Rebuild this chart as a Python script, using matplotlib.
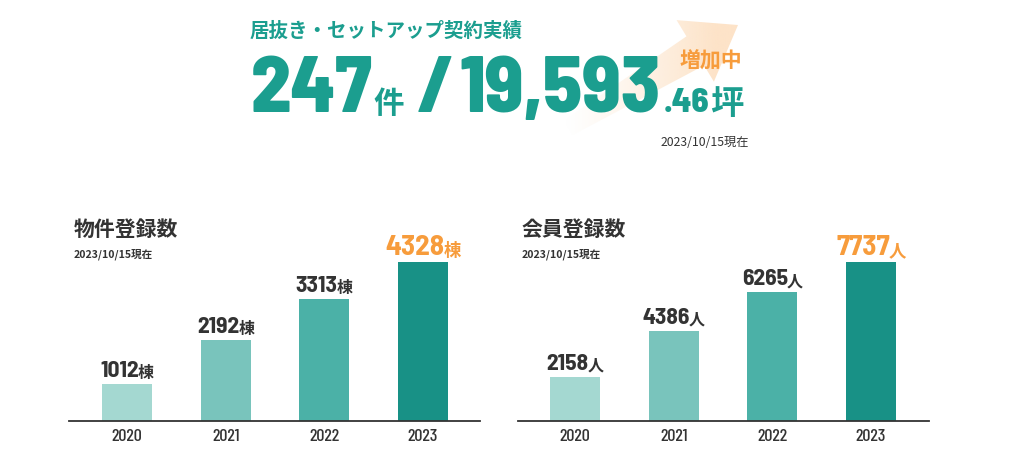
import matplotlib
matplotlib.use("Agg")
import matplotlib.pyplot as plt
import numpy as np
from matplotlib.patches import Polygon
from matplotlib.transforms import offset_copy

# ---------------- data ----------------
years = ["2020", "2021", "2022", "2023"]
property_counts = [1012, 2192, 3313, 4328]
member_counts = [2158, 4386, 6265, 7737]
property_unit = "棟"
member_unit = "人"
property_title = "物件登録数"
member_title = "会員登録数"
as_of = "2023/10/15現在"
header_title = "居抜き・セットアップ契約実績"
contracts = "247"
contracts_unit = "件"
area_int = "19,593"
area_dec = ".46"
area_unit = "坪"
growing = "増加中"

# ---------------- style ----------------
W, H = 1011, 476
TEAL = "#1b9e8f"
ORANGE = "#f79c3c"
DARK = "#333333"
bar_colors = ["#a4d8d1", "#79c4bc", "#4bb1a7", "#189186"]
NUM = "Barlow Semi Condensed"
TICK = "Barlow Condensed"
JP = ["Noto Sans CJK JP", "DejaVu Sans"]

plt.rcParams["font.family"] = JP

fig = plt.figure(figsize=(W / 100, H / 100), dpi=100)
fig.patch.set_facecolor("white")

# full-figure canvas axes in pixel coordinates (y down)
cv = fig.add_axes([0, 0, 1, 1], zorder=0)
cv.set_xlim(0, W)
cv.set_ylim(H, 0)
cv.axis("off")

# ---- gradient arrow (decoration) ----
S = np.array([568.0, 128.0])
T = np.array([738.0, 25.0])
u = (T - S) / np.linalg.norm(T - S)
n = np.array([-u[1], u[0]])
head_len, head_hw, shaft_hw = 50, 36, 17
B = T - u * head_len
pts = [
    S + n * shaft_hw * 0.5,
    B + n * shaft_hw,
    B + n * head_hw,
    T,
    B - n * head_hw,
    B - n * shaft_hw,
    S - n * shaft_hw * 0.5,
]
poly = Polygon(pts, closed=True, facecolor="none", edgecolor="none")
cv.add_patch(poly)
gx = np.linspace(0, 1, 256)
grad = np.zeros((2, 256, 4))
rgb = np.array([253, 224, 194]) / 255.0
grad[..., 0:3] = rgb
grad[..., 3] = np.clip(gx * 1.15, 0, 1) ** 1.2 * 0.9
xs = [p[0] for p in pts]
ys = [p[1] for p in pts]
im = cv.imshow(grad, extent=[min(xs), max(xs), max(ys), min(ys)], aspect="auto",
               interpolation="bilinear", zorder=1)
im.set_clip_path(poly)

# ---- header texts ----
cv.text(250, 31, header_title, color=TEAL, fontsize=14, fontweight="bold",
        va="center", ha="left", zorder=3)
base = 112
big = dict(color=TEAL, fontsize=57, fontweight="heavy", family=NUM,
           va="baseline", ha="left", zorder=3)
cv.text(251, base, contracts, **big)
cv.text(373, base + 1, contracts_unit, color=TEAL, fontsize=22, fontweight="bold",
        va="baseline", ha="left", zorder=3)
cv.text(417, base, "/", **big)
cv.text(459, base, area_int, **big)
cv.text(664, base, area_dec, color=TEAL, fontsize=25, fontweight="heavy",
        family=NUM, va="baseline", ha="left", zorder=3)
cv.text(710, base + 2, area_unit, color=TEAL, fontsize=24, fontweight="bold",
        va="baseline", ha="left", zorder=3)
cv.text(711, 61, growing, color=ORANGE, fontsize=15, fontweight="bold",
        va="center", ha="center", zorder=3)
cv.text(749, 143, as_of, color=DARK, fontsize=8.8, va="center", ha="right", zorder=3)

# ---- bar charts ----
def bar_chart(x0, x1, left_pad, right_pad, values, unit, title, tx):
    ax = fig.add_axes([x0 / W, (H - 421) / H, (x1 - x0) / W, (421 - 262) / H], zorder=2)
    pos = np.arange(len(values))
    ax.bar(pos, values, width=0.507, color=bar_colors, zorder=2)
    ax.set_xlim(-left_pad, len(values) - 1 + right_pad)
    ax.set_ylim(0, max(values))
    for s in ["top", "right", "left"]:
        ax.spines[s].set_visible(False)
    ax.spines["bottom"].set_color(DARK)
    ax.spines["bottom"].set_linewidth(1.3)
    ax.spines["bottom"].set_zorder(3)
    ax.set_yticks([])
    ax.set_xticks(pos)
    ax.set_xticklabels(years, family=TICK, fontsize=13, color=DARK, fontweight="medium")
    ax.tick_params(axis="x", length=0, pad=6)
    ax.patch.set_alpha(0)

    r = fig.canvas.get_renderer()
    for i, v in enumerate(values):
        last = i == len(values) - 1
        col = ORANGE if last else DARK
        fs_num = 21 if last else 17
        fs_unit = 12.5 if last else 11.5
        t1 = ax.text(i, v, str(v), family=NUM, fontweight="bold", fontsize=fs_num,
                     color=col, ha="left", va="baseline", clip_on=False)
        t2 = ax.text(i, v, unit, fontweight="bold", fontsize=fs_unit,
                     color=col, ha="left", va="baseline", clip_on=False)
        w1 = t1.get_window_extent(r).width
        w2 = t2.get_window_extent(r).width
        tot = w1 + w2 - 1
        t1.set_transform(offset_copy(ax.transData, fig=fig, x=-tot / 2, y=7, units="dots"))
        t2.set_transform(offset_copy(ax.transData, fig=fig, x=-tot / 2 + w1 - 1, y=6, units="dots"))

    cv.text(tx, 229, title, color=DARK, fontsize=15, fontweight="bold",
            va="center", ha="left")
    cv.text(tx, 254, as_of, color=DARK, fontsize=7.6, fontweight="bold",
            va="center", ha="left")
    return ax

bar_chart(69, 480, (127 - 69) / 98.67, (480 - 423) / 98.67, property_counts, property_unit, property_title, 74)
bar_chart(518, 929, (575 - 518) / 98.67, (929 - 871) / 98.67, member_counts, member_unit, member_title, 522)

fig.savefig("out.png", dpi=100)
